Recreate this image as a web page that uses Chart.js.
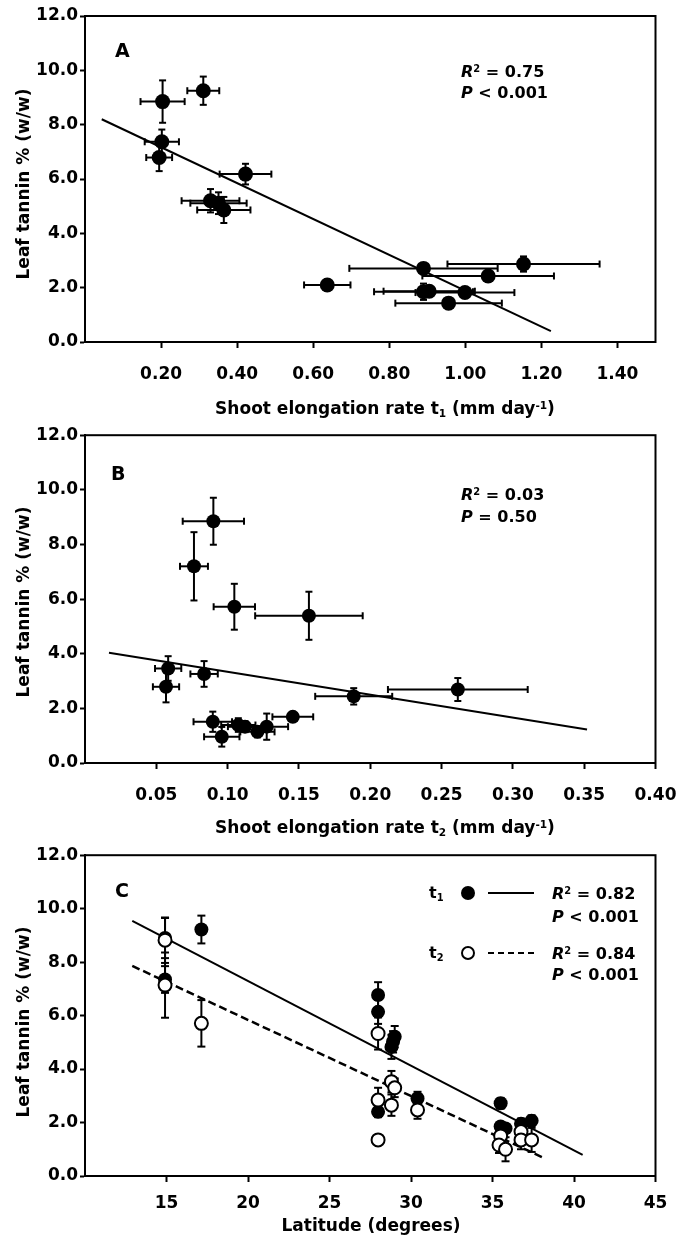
<!DOCTYPE html>
<html><head><meta charset="utf-8">
<script src="https://cdn.jsdelivr.net/npm/chart.js@4.4.1/dist/chart.umd.min.js"></script>
<style>
html,body{margin:0;padding:0;background:#fff;overflow:hidden;}
#page{position:relative;width:681px;height:1237px;overflow:hidden;font-family:'DejaVu Sans',sans-serif;font-weight:bold;color:#000;}
.cw{position:absolute;left:0;}
.t{position:absolute;white-space:nowrap;line-height:1;}
.t sub{font-size:0.62em;vertical-align:-0.28em;line-height:0;}
.t sup{font-size:0.62em;vertical-align:0.5em;line-height:0;}
.xt{transform:translateX(-50%);font-size:17px;}
.yt{transform:translate(-50%,-50%) rotate(-90deg);font-size:17px;}
.letter{font-size:19px;}
.st{font-size:16px;}
.st i{font-style:italic;}
.dot{position:absolute;width:14px;height:14px;border-radius:50%;box-sizing:border-box;}
.seg{position:absolute;height:0;}
</style>
</head><body>
<div id="page">
  <div class="cw" style="top:0;width:681px;height:423px;"><canvas id="cA" width="681" height="423"></canvas></div>
  <div class="cw" style="top:423px;width:701px;height:420px;"><canvas id="cB" width="701" height="420"></canvas></div>
  <div class="cw" style="top:843px;width:681px;height:394px;"><canvas id="cC" width="681" height="394"></canvas></div>

  <!-- axis titles -->
  <div class="t yt" style="left:23px;top:184px;">Leaf tannin % (w/w)</div>
  <div class="t yt" style="left:23px;top:602px;">Leaf tannin % (w/w)</div>
  <div class="t yt" style="left:23px;top:1022px;">Leaf tannin % (w/w)</div>
  <div class="t xt" style="left:385px;top:400px;">Shoot elongation rate t<sub>1</sub> (mm day<sup>-1</sup>)</div>
  <div class="t xt" style="left:385px;top:819px;">Shoot elongation rate t<sub>2</sub> (mm day<sup>-1</sup>)</div>
  <div class="t xt" style="left:371px;top:1217px;">Latitude (degrees)</div>

  <!-- panel A annotations -->
  <div class="t letter" style="left:115px;top:41px;">A</div>
  <div class="t st" style="left:461px;top:64px;"><i>R</i><sup>2</sup> = 0.75</div>
  <div class="t st" style="left:461px;top:85px;"><i>P</i> &lt; 0.001</div>

  <!-- panel B annotations -->
  <div class="t letter" style="left:111px;top:464px;">B</div>
  <div class="t st" style="left:461px;top:487px;"><i>R</i><sup>2</sup> = 0.03</div>
  <div class="t st" style="left:461px;top:509px;"><i>P</i> = 0.50</div>

  <!-- panel C annotations / legend -->
  <div class="t letter" style="left:115px;top:881px;">C</div>
  <div class="t st" style="left:429px;top:885px;">t<sub>1</sub></div>
  <div class="dot" style="left:461px;top:886px;background:#000;"></div>
  <div class="seg" style="left:488px;top:892px;width:46px;border-top:2px solid #000;"></div>
  <div class="t st" style="left:552px;top:886px;"><i>R</i><sup>2</sup> = 0.82</div>
  <div class="t st" style="left:552px;top:909px;"><i>P</i> &lt; 0.001</div>
  <div class="t st" style="left:429px;top:945px;">t<sub>2</sub></div>
  <div class="dot" style="left:461px;top:946px;background:#fff;border:2px solid #000;"></div>
  <div class="seg" style="left:488px;top:952px;width:46px;border-top:2px dashed #000;"></div>
  <div class="t st" style="left:552px;top:946px;"><i>R</i><sup>2</sup> = 0.84</div>
  <div class="t st" style="left:552px;top:967px;"><i>P</i> &lt; 0.001</div>
</div>
<script>
// ---------- Data ----------
// Panel A: shoot elongation rate t1 vs leaf tannin
const aRate      = [0.204, 0.311, 0.202, 0.195, 0.422, 0.330, 0.351, 0.365, 0.637, 0.890, 1.153, 1.060, 0.890, 0.905, 0.999, 0.956];
const aTannin    = [8.85, 9.25, 7.37, 6.79, 6.18, 5.20, 5.11, 4.86, 2.10, 2.71, 2.87, 2.43, 1.85, 1.87, 1.82, 1.43];
const aRateErr   = [0.058, 0.042, 0.045, 0.034, 0.068, 0.076, 0.074, 0.070, 0.061, 0.195, 0.200, 0.173, 0.130, 0.120, 0.130, 0.140];
const aTanninErr = [0.78, 0.52, 0.45, 0.50, 0.38, 0.43, 0.40, 0.48, 0.15, 0.20, 0.28, 0.12, 0.30, 0.15, 0.12, 0.10];
const aFitRate   = [0.044, 1.225];
const aFitTannin = [8.2, 0.4];

// Panel B: shoot elongation rate t2 vs leaf tannin
const bRate      = [0.090, 0.0764, 0.1047, 0.157, 0.0583, 0.0568, 0.0835, 0.1884, 0.2614, 0.0896, 0.0959, 0.1075, 0.1122, 0.1209, 0.1274, 0.1457];
const bTannin    = [8.85, 7.20, 5.72, 5.39, 3.46, 2.79, 3.26, 2.44, 2.69, 1.51, 0.96, 1.39, 1.33, 1.14, 1.33, 1.69];
const bRateErr   = [0.0215, 0.0098, 0.0145, 0.0377, 0.0092, 0.0092, 0.0096, 0.027, 0.049, 0.0135, 0.0124, 0.012, 0.012, 0.012, 0.015, 0.0143];
const bTanninErr = [0.86, 1.25, 0.84, 0.88, 0.45, 0.57, 0.47, 0.30, 0.42, 0.37, 0.36, 0.25, 0.20, 0.20, 0.48, 0.15];
const bFitRate   = [0.0168, 0.352];
const bFitTannin = [4.04, 1.23];

// Panel C: latitude vs leaf tannin (t1 filled, t2 open)
const cLat1      = [14.91, 17.14, 14.91, 27.98, 27.98, 29.0, 28.9, 28.8, 27.98, 30.4, 35.5, 35.5, 35.8, 36.75, 37.4, 36.75];
const cTannin1   = [8.90, 9.22, 7.35, 6.77, 6.14, 5.21, 5.02, 4.83, 2.40, 2.90, 2.72, 1.85, 1.78, 1.95, 2.07, 1.65];
const cErr1      = [0.75, 0.52, 0.50, 0.48, 0.45, 0.40, 0.40, 0.45, 0.20, 0.25, 0.20, 0.15, 0.15, 0.20, 0.20, 0.20];
const cLat2      = [14.91, 14.91, 17.14, 27.98, 28.8, 29.0, 27.98, 28.8, 30.4, 27.98, 35.5, 35.4, 35.8, 36.75, 36.75, 37.4];
const cTannin2   = [8.82, 7.14, 5.71, 5.33, 3.53, 3.30, 2.84, 2.65, 2.47, 1.35, 1.50, 1.16, 1.00, 1.66, 1.35, 1.35];
const cErr2      = [0.85, 1.22, 0.87, 0.60, 0.40, 0.35, 0.46, 0.40, 0.33, 0.15, 0.20, 0.30, 0.45, 0.30, 0.35, 0.45];
const cFit1Lat   = [12.9, 40.53];
const cFit1Tan   = [9.54, 0.79];
const cFit2Lat   = [12.9, 38.2];
const cFit2Tan   = [7.86, 0.66];

// Tick labels
const tanninTicks = [0, 2, 4, 6, 8, 10, 12];
const aRateTicks  = [0.2, 0.4, 0.6, 0.8, 1.0, 1.2, 1.4];
const bRateTicks  = [0.05, 0.10, 0.15, 0.20, 0.25, 0.30, 0.35, 0.40];
const latTicks    = [15, 20, 25, 30, 35, 40, 45];

// ---------- helpers ----------
const pts = (xs, ys) => xs.map((x, i) => ({x: x, y: ys[i]}));
const FONT = {family: "'DejaVu Sans', sans-serif", weight: 'bold', size: 17};

const errorBars = {
  id: 'errorBars',
  beforeDatasetsDraw(chart) {
    const ctx = chart.ctx, xs = chart.scales.x, ys = chart.scales.y;
    ctx.save();
    ctx.strokeStyle = '#000';
    ctx.lineWidth = 2;
    ctx.lineCap = 'butt';
    const seg = (x1, y1, x2, y2) => { ctx.beginPath(); ctx.moveTo(x1, y1); ctx.lineTo(x2, y2); ctx.stroke(); };
    chart.data.datasets.forEach(ds => {
      const cap = ds.capHalf || 3.5;
      ds.data.forEach((p, i) => {
        const px = xs.getPixelForValue(p.x), py = ys.getPixelForValue(p.y);
        if (ds.errX) {
          const x1 = xs.getPixelForValue(p.x - ds.errX[i]), x2 = xs.getPixelForValue(p.x + ds.errX[i]);
          seg(x1, py, x2, py); seg(x1, py - cap, x1, py + cap); seg(x2, py - cap, x2, py + cap);
        }
        if (ds.errY) {
          const y1 = ys.getPixelForValue(p.y - ds.errY[i]), y2 = ys.getPixelForValue(p.y + ds.errY[i]);
          seg(px, y1, px, y2); seg(px - cap, y1, px + cap, y1); seg(px - cap, y2, px + cap, y2);
        }
      });
    });
    ctx.restore();
  }
};

const frame = {
  id: 'frame',
  afterDatasetsDraw(chart) {
    const a = chart.chartArea, ctx = chart.ctx;
    ctx.save();
    ctx.strokeStyle = '#000';
    ctx.lineWidth = 2;
    ctx.strokeRect(a.left, a.top, a.right - a.left, a.bottom - a.top);
    ctx.restore();
  }
};

function makeChart(id, cfg) {
  const axisGrid = {display: true, drawOnChartArea: false, drawTicks: true, tickLength: 6, tickWidth: 2, tickColor: '#000'};
  return new Chart(document.getElementById(id), {
    type: 'scatter',
    data: {datasets: cfg.datasets},
    plugins: [errorBars, frame],
    options: {
      responsive: false, animation: false, devicePixelRatio: 1, events: [],
      layout: {padding: {left: 0, right: cfg.padRight, top: cfg.padTop, bottom: 0}},
      plugins: {legend: {display: false}, tooltip: {enabled: false}, title: {display: false}},
      scales: {
        x: {
          type: 'linear', min: cfg.xMin, max: cfg.xMax,
          afterBuildTicks: s => { s.ticks = cfg.xTicks.map(v => ({value: v})); },
          afterFit: s => { s.height = cfg.xAxisH; },
          ticks: {font: FONT, color: '#000', padding: cfg.xPad, maxRotation: 0, autoSkip: false,
                  callback: v => cfg.xFmt(v)},
          grid: axisGrid,
          border: {display: true, color: '#000', width: 2}
        },
        y: {
          type: 'linear', min: 0, max: 12,
          afterBuildTicks: s => { s.ticks = tanninTicks.map(v => ({value: v})); },
          afterFit: s => { s.width = 85; },
          ticks: {font: FONT, color: '#000', padding: 2, autoSkip: false, callback: v => Number(v).toFixed(1)},
          grid: Object.assign({}, axisGrid, {tickLength: 5}),
          border: {display: true, color: '#000', width: 2}
        }
      }
    }
  });
}

const fitStyle = {showLine: true, pointRadius: 0, borderColor: '#000', borderWidth: 2, fill: false};

makeChart('cA', {
  padTop: 16, padRight: 25.5, xAxisH: 81, xPad: 16, xMin: 0, xMax: 1.5, xTicks: aRateTicks, xFmt: v => Number(v).toFixed(2),
  datasets: [
    Object.assign({data: pts(aFitRate, aFitTannin), order: 2}, fitStyle),
    {data: pts(aRate, aTannin), errX: aRateErr, errY: aTanninErr, pointRadius: 7.5, borderWidth: 0,
     backgroundColor: '#000', borderColor: '#000', order: 1}
  ]
});

makeChart('cB', {
  padTop: 12, padRight: 45.5, xAxisH: 80, xPad: 16, xMin: 0, xMax: 0.4, xTicks: bRateTicks, xFmt: v => Number(v).toFixed(2),
  datasets: [
    Object.assign({data: pts(bFitRate, bFitTannin), order: 2}, fitStyle),
    {data: pts(bRate, bTannin), errX: bRateErr, errY: bTanninErr, pointRadius: 7, borderWidth: 0,
     backgroundColor: '#000', borderColor: '#000', order: 1}
  ]
});

makeChart('cC', {
  padTop: 12, padRight: 25.5, xAxisH: 61, xPad: 11, xMin: 10, xMax: 45, xTicks: latTicks, xFmt: v => String(v),
  datasets: [
    Object.assign({data: pts(cFit1Lat, cFit1Tan), order: 3}, fitStyle),
    Object.assign({data: pts(cFit2Lat, cFit2Tan), order: 3}, fitStyle, {borderDash: [8, 4], borderWidth: 2.5}),
    {data: pts(cLat1, cTannin1), errY: cErr1, capHalf: 4, pointRadius: 7, borderWidth: 0,
     backgroundColor: '#000', borderColor: '#000', order: 2},
    {data: pts(cLat2, cTannin2), errY: cErr2, capHalf: 4, pointRadius: 6.5, borderWidth: 2,
     backgroundColor: '#fff', borderColor: '#000', order: 1}
  ]
});
</script>
</body></html>
